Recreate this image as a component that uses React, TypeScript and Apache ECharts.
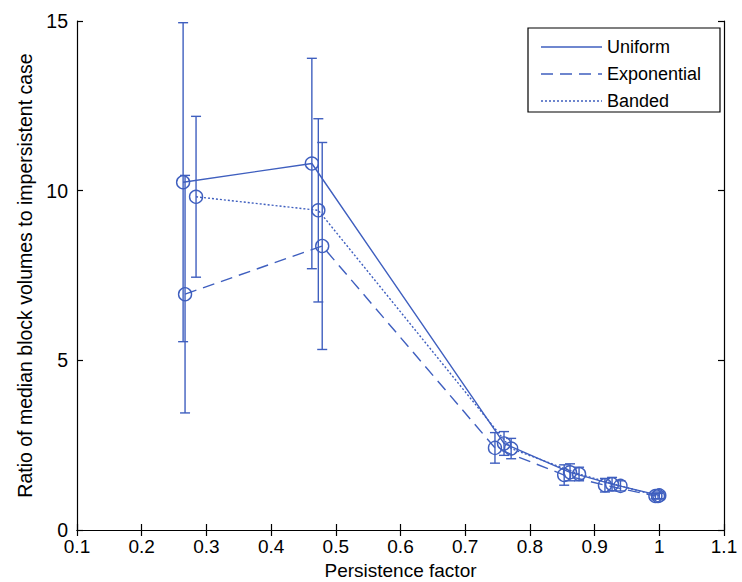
import React, { useEffect, useRef } from "react";
import * as echarts from "echarts";

const seriesNames = ["Uniform", "Exponential", "Banded"];

const uniformX = [0.264, 0.463, 0.76, 0.862, 0.927, 1.0];
const uniformY = [10.25, 10.8, 2.55, 1.7, 1.35, 1.02];
const uniformErr = [4.7, 3.1, 0.35, 0.25, 0.2, 0.1];

const exponentialX = [0.267, 0.479, 0.746, 0.853, 0.916, 0.994];
const exponentialY = [6.95, 8.37, 2.42, 1.62, 1.32, 1.0];
const exponentialErr = [3.5, 3.05, 0.45, 0.3, 0.2, 0.08];

const bandedX = [0.284, 0.473, 0.771, 0.876, 0.94, 0.998];
const bandedY = [9.82, 9.42, 2.4, 1.65, 1.3, 1.0];
const bandedErr = [2.37, 2.7, 0.3, 0.2, 0.15, 0.08];

const xTicks = { min: 0.1, max: 1.1, interval: 0.1 };
const yTicks = { min: 0, max: 15, interval: 5 };

const COLOR = "#3f5fbf";
const FONT = "Liberation Sans, Arial, sans-serif";

const dashes: (number[] | "solid")[] = ["solid", [12, 7], [2, 2]];

function pairs(xs: number[], ys: number[]) {
  return xs.map((x, i) => [x, ys[i]]);
}
function errs(xs: number[], ys: number[], es: number[]) {
  return xs.map((x, i) => [x, ys[i] - es[i], ys[i] + es[i]]);
}

export default function App() {
  const ref = useRef<HTMLDivElement>(null);
  useEffect(() => {
    if (!ref.current) return;
    const chart = echarts.init(ref.current, undefined, { renderer: "svg" });
    const lineData = [
      pairs(uniformX, uniformY),
      pairs(exponentialX, exponentialY),
      pairs(bandedX, bandedY),
    ];
    const errData = [
      errs(uniformX, uniformY, uniformErr),
      errs(exponentialX, exponentialY, exponentialErr),
      errs(bandedX, bandedY, bandedErr),
    ];
    const lineSeries = lineData.map((d, i) => ({
      name: seriesNames[i],
      type: "line",
      data: d,
      symbol: "circle",
      symbolSize: 13,
      showSymbol: true,
      lineStyle: { color: COLOR, width: 1.4, type: dashes[i] },
      itemStyle: { color: "transparent", borderColor: COLOR, borderWidth: 1.4 },
      z: 3,
    }));
    const errSeries = errData.map((d, i) => ({
      name: seriesNames[i] + " error",
      type: "custom",
      data: d,
      z: 2,
      renderItem: (params: any, api: any) => {
        const x = api.value(0);
        const lo = api.value(1);
        const hi = api.value(2);
        const top = api.coord([x, hi]);
        const bot = api.coord([x, lo]);
        const hw = 5;
        const style = { stroke: COLOR, lineWidth: 1.4 };
        return {
          type: "group",
          children: [
            { type: "line", shape: { x1: top[0], y1: top[1], x2: bot[0], y2: bot[1] }, style },
            { type: "line", shape: { x1: top[0] - hw, y1: top[1], x2: top[0] + hw, y2: top[1] }, style },
            { type: "line", shape: { x1: bot[0] - hw, y1: bot[1], x2: bot[0] + hw, y2: bot[1] }, style },
          ],
        };
      },
    }));

    const axisCommon = {
      axisLine: { show: true, lineStyle: { color: "#000", width: 1.2 } },
      axisTick: { show: true, inside: true, length: 6, lineStyle: { color: "#000", width: 1.2 } },
      splitLine: { show: false },
    };

    const legendX = 528;
    const legendY = 28;
    const legendRows = [47, 74, 101];
    const legendGraphics: any[] = [
      {
        type: "rect",
        shape: { x: legendX, y: legendY, width: 192, height: 84 },
        style: { fill: "#fff", stroke: "#000", lineWidth: 1.2 },
        z: 10,
      },
    ];
    seriesNames.forEach((n, i) => {
      legendGraphics.push({
        type: "line",
        shape: { x1: 541, y1: legendRows[i], x2: 602, y2: legendRows[i] },
        style: { stroke: COLOR, lineWidth: 1.4, lineDash: dashes[i] === "solid" ? null : dashes[i] },
        z: 11,
      });
      legendGraphics.push({
        type: "text",
        x: 607,
        y: legendRows[i],
        style: { text: n, fill: "#000", font: `18px ${FONT}`, verticalAlign: "middle", align: "left" },
        z: 11,
      });
    });

    chart.setOption({
      animation: false,
      backgroundColor: "#fff",
      textStyle: { fontFamily: FONT },
      grid: { left: 77, right: 18, top: 21, bottom: 52, containLabel: false, outerBoundsMode: "none" },
      xAxis: [
        {
          type: "value",
          ...xTicks,
          ...axisCommon,
          name: "Persistence factor",
          nameLocation: "middle",
          nameGap: 26,
          nameTextStyle: { color: "#000", fontSize: 19, fontFamily: FONT },
          axisLabel: {
            color: "#000",
            fontSize: 19,
            fontFamily: FONT,
            margin: 7,
            formatter: (v: number) => String(Math.round(v * 10) / 10),
          },
        },
        {
          type: "value",
          position: "top",
          ...xTicks,
          ...axisCommon,
          axisLabel: { show: false },
        },
      ],
      yAxis: [
        {
          type: "value",
          ...yTicks,
          ...axisCommon,
          name: "Ratio of median block volumes to impersistent case",
          nameLocation: "middle",
          nameGap: 41,
          nameTextStyle: { color: "#000", fontSize: 19.5, fontFamily: FONT },
          axisLabel: { color: "#000", fontSize: 19.5, fontFamily: FONT, margin: 9 },
        },
        {
          type: "value",
          position: "right",
          ...yTicks,
          ...axisCommon,
          axisLabel: { show: false },
        },
      ],
      series: [...errSeries, ...lineSeries],
      graphic: legendGraphics,
    });
    return () => chart.dispose();
  }, []);
  return <div ref={ref} style={{ width: 742, height: 582, position: "absolute", left: 0, top: 0 }} />;
}
